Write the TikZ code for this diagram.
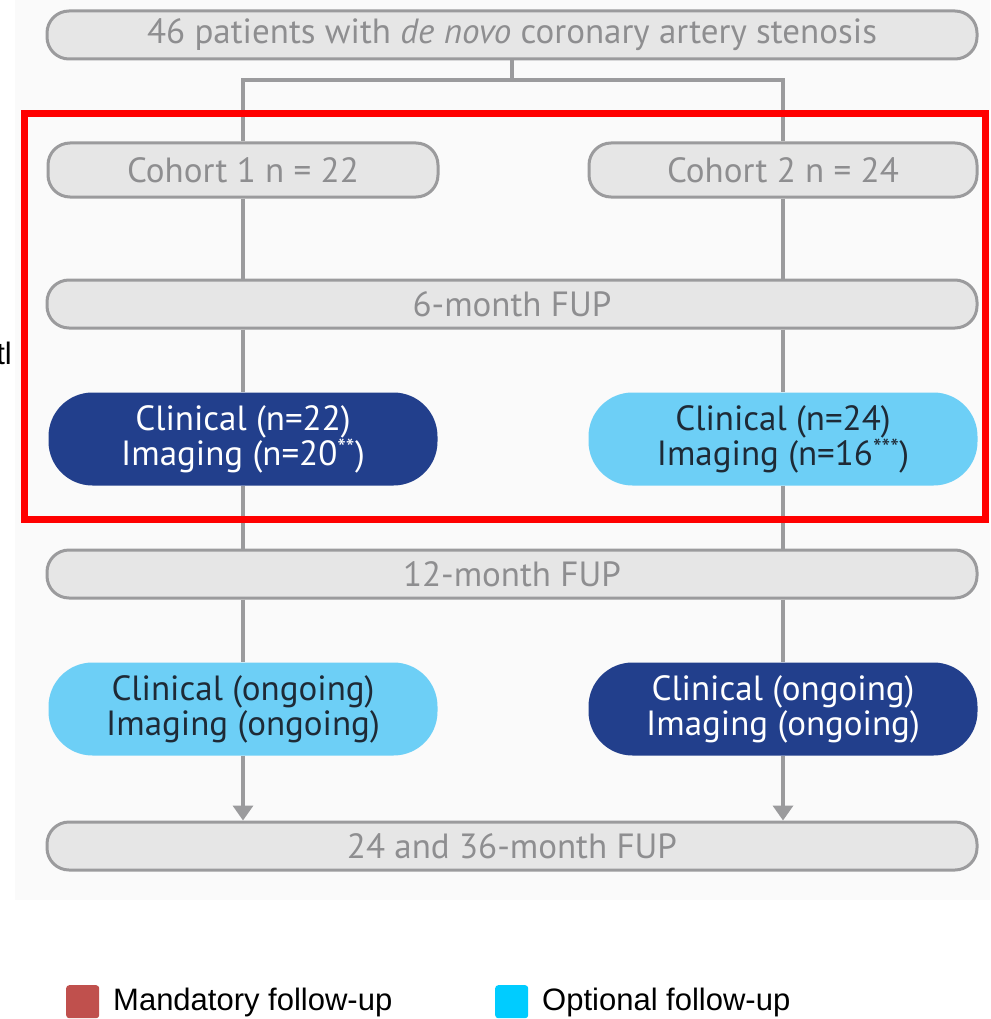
\documentclass[tikz,border=0pt]{standalone}
\usepackage{fontspec}
\setmainfont{PT Sans}
\newfontfamily\legendfont{Liberation Sans}
\usetikzlibrary{arrows.meta}
\definecolor{boxgray}{HTML}{E6E6E6}
\definecolor{linegray}{HTML}{9B9B9D}
\definecolor{textgray}{HTML}{8E8E90}
\definecolor{darkblue}{HTML}{223F8C}
\definecolor{lightblue}{HTML}{6DCFF6}
\definecolor{darktext}{HTML}{1E2A36}
\definecolor{mandred}{HTML}{C0504D}
\definecolor{optcyan}{HTML}{00CCFF}
\definecolor{framered}{HTML}{FF0000}
\tikzset{
	fupbox/.style={draw=linegray,line width=3pt,fill=boxgray,rounded corners=22pt,text=textgray,
		font=\fontsize{35}{38}\selectfont,minimum height=48pt,inner sep=0pt},
	pill/.style={rounded corners=44pt,align=center,minimum height=93pt,minimum width=389pt,
		inner sep=0pt,font=\fontsize{35}{35}\selectfont},
	mandbox/.style={pill,fill=darkblue,text=white},
	optbox/.style={pill,fill=lightblue,text=darktext},
	link/.style={draw=linegray,line width=3.5pt},
	legtext/.style={font=\legendfont\fontsize{31}{36}\selectfont,anchor=west,inner sep=0pt}
}
\begin{document}
\begin{tikzpicture}[x=1pt,y=-1pt]
		\useasboundingbox (0,0) rectangle (990,1019);
		\fill[black!2] (15,0) rectangle (990,900);

		% boxes
		\draw (512,35) node (p)[fupbox,minimum width=930]{46 patients with \textit{de novo} coronary artery stenosis};
		\draw (512,80) coordinate (split);
		\draw (243,170) node (c1)[fupbox,minimum width=390,minimum height=54]{Cohort 1 n = 22};
		\draw (783,170) node (c2)[fupbox,minimum width=388,minimum height=54]{Cohort 2 n = 24};
		\draw (512,304) node (f6)[fupbox,minimum width=930]{6-month FUP};
		\draw (243,439) node (m1)[mandbox]{Clinical (n=22)\\Imaging (n=20\textsuperscript{**})};
		\draw (783,439) node (m2)[optbox]{Clinical (n=24)\\Imaging (n=16\textsuperscript{***})};
		\draw (512,574) node (f12)[fupbox,minimum width=930]{12-month FUP};
		\draw (243,709) node (o1)[optbox]{Clinical (ongoing)\\Imaging (ongoing)};
		\draw (783,709) node (o2)[mandbox]{Clinical (ongoing)\\Imaging (ongoing)};
		\draw (512,846) node (f24)[fupbox,minimum width=930]{24 and 36-month FUP};

		% connectors, behind the boxes
		\draw[link] (p.south) -- (split);
		\draw[link] (split) -| (c1.north);
		\draw[link] (split) -| (c2.north);
		\foreach \a/\b in {c1/f6,m1/f12,c2/f6,m2/f12}{
			\draw[link] (\a.south) -- (\a.south |- \b.north);
		}
		\foreach \a/\b in {f6/m1,f12/o1,f6/m2,f12/o2}{
			\draw[link] (\b.north |- \a.south) -- (\b.north);
		}
		\draw[link,-{Triangle[width=20pt,length=15pt]}] (o1.south) -- (o1.south |- f24.north);
		\draw[link,-{Triangle[width=20pt,length=15pt]}] (o2.south) -- (o2.south |- f24.north);

		% red frame
		\draw[framered,line width=7pt] (24,114) rectangle (985,519);
		\draw (12,353) node (tl)[legtext,anchor=east]{tl};

		% legend
		\draw (66,985) node (k1)[fill=mandred,rounded corners=3pt,minimum width=33,minimum height=33,anchor=north west,inner sep=0pt]{};
		\draw (113,1002) node (l1)[legtext]{Mandatory follow-up};
		\draw (495,985) node (k2)[fill=optcyan,rounded corners=3pt,minimum width=33,minimum height=33,anchor=north west,inner sep=0pt]{};
		\draw (542,1002) node (l2)[legtext]{Optional follow-up};
	\end{tikzpicture}
\end{document}
